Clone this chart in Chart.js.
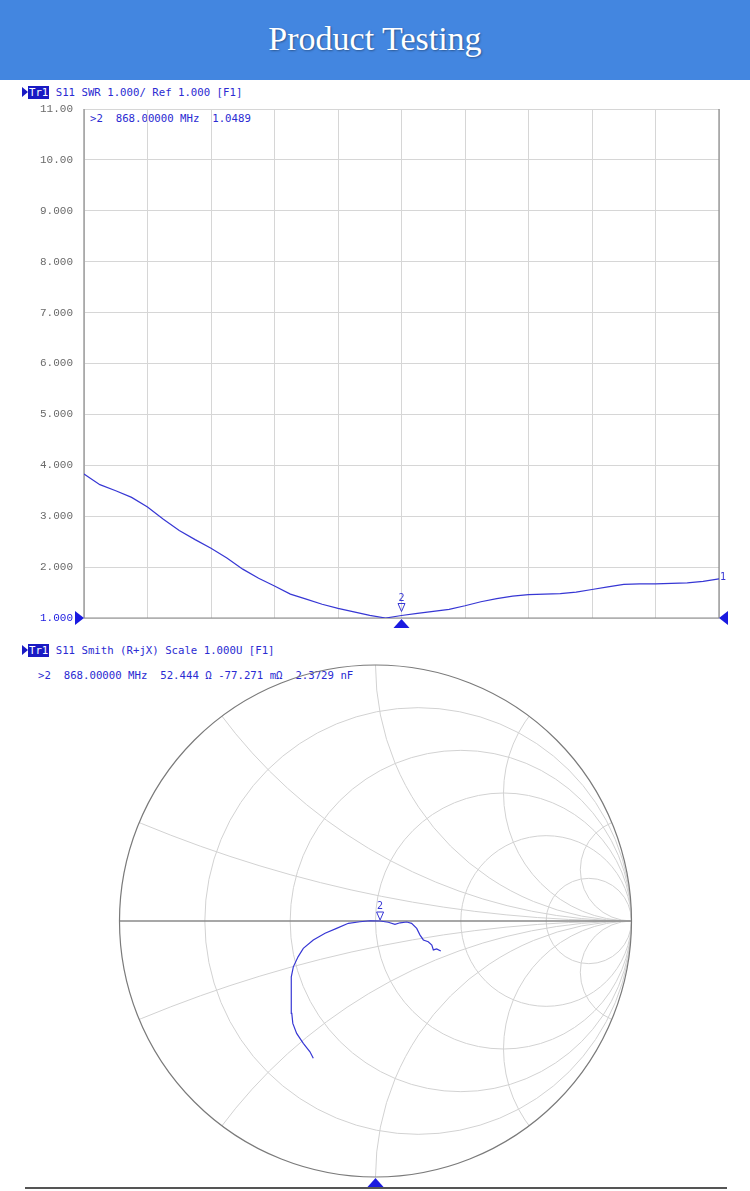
<!DOCTYPE html>
<html>
<head>
<meta charset="utf-8">
<script src="https://cdn.jsdelivr.net/npm/chart.js@4.4.1/dist/chart.umd.min.js"></script>
<style>
  body { margin: 0; background: #fff; width: 750px; height: 1191px; position: relative; overflow: hidden; }
  .banner { position: absolute; left: 0; top: 0; width: 750px; height: 80px; background: #4386e0; }
  .banner h1 { margin: 0; font: 34px "Liberation Serif", serif; color: #fff; text-align: center; line-height: 78px; font-weight: normal; text-shadow: 1px 1px 2px rgba(0,0,0,0.35); }
  .info { position: absolute; font: 10.7px "DejaVu Sans Mono", monospace; color: #2b2bd2; white-space: pre; line-height: 12px; }
  .tr { background: #1a1ac4; color: #fff; padding: 0 1px; }
  .arrow { display: inline-block; width: 0; height: 0; border-top: 5px solid transparent; border-bottom: 5px solid transparent; border-left: 6px solid #1a1ac4; vertical-align: -1px; }
  canvas { position: absolute; left: 0; }
  .baseline { position: absolute; left: 25px; top: 1187px; width: 702px; height: 0; border-top: 2px solid #555; }
</style>
</head>
<body>
<div class="banner"><h1>Product Testing</h1></div>

<div class="info" style="left:22px;top:87px"><span class="arrow"></span><span class="tr">Tr1</span> S11 SWR 1.000/ Ref 1.000 [F1]</div>
<div class="info" style="left:90px;top:113px">&gt;2  868.00000 MHz  1.0489</div>
<canvas id="swr" width="750" height="560" style="top:80px"></canvas>

<div class="info" style="left:22px;top:645px"><span class="arrow"></span><span class="tr">Tr1</span> S11 Smith (R+jX) Scale 1.000U [F1]</div>
<div class="info" style="left:38px;top:670px">&gt;2  868.00000 MHz  52.444 Ω -77.271 mΩ  2.3729 nF</div>
<canvas id="smith" width="750" height="551" style="top:640px"></canvas>
<div class="baseline"></div>

<script>
// SWR trace, x in grid divisions (0..10), marker 2 at div 5 = 868 MHz
const swrDivs = [0, 0.25, 0.5, 0.75, 1, 1.25, 1.5, 1.75, 2, 2.25, 2.5, 2.75, 3, 3.25, 3.5, 3.75,
  4, 4.25, 4.5, 4.75, 5, 5.25, 5.5, 5.75, 6, 6.25, 6.5, 6.75, 7, 7.25, 7.5, 7.75,
  8, 8.25, 8.5, 8.75, 9, 9.25, 9.5, 9.75, 10];
const swrValues = [3.83, 3.62, 3.50, 3.37, 3.18, 2.94, 2.72, 2.54, 2.37, 2.18, 1.96, 1.78, 1.63, 1.47, 1.37, 1.27,
  1.19, 1.12, 1.05, 1.00, 1.049, 1.09, 1.13, 1.17, 1.24, 1.32, 1.38, 1.43, 1.46, 1.47, 1.48, 1.51,
  1.56, 1.61, 1.66, 1.67, 1.67, 1.68, 1.69, 1.72, 1.77];
const swrTickLabels = ['1.000', '2.000', '3.000', '4.000', '5.000', '6.000', '7.000', '8.000', '9.000', '10.00', '11.00'];
const swrMarkerIdx = 20;

// Smith trace (reflection coefficient, real / imag)
const smithRe = [-0.243, -0.256, -0.282, -0.308, -0.323, -0.327, -0.330, -0.330, -0.327, -0.321, -0.302, -0.282,
  -0.243, -0.197, -0.152, -0.106, -0.061, -0.021, 0.018, 0.050, 0.076, 0.096, 0.122, 0.141,
  0.161, 0.174, 0.187, 0.206, 0.220, 0.226, 0.239, 0.255];
const smithIm = [-0.536, -0.511, -0.478, -0.439, -0.400, -0.361, -0.296, -0.257, -0.218, -0.179, -0.139, -0.107,
  -0.074, -0.048, -0.029, -0.009, -0.003, 0.001, 0.000, -0.005, -0.013, -0.007, -0.004, -0.009,
  -0.029, -0.055, -0.074, -0.081, -0.094, -0.113, -0.109, -0.117];
const smithMarkerIdx = 18;
const smithR = [0.2, 0.5, 1, 2, 5];
const smithX = [0.2, 0.5, 1, 2, 5];

const blue = '#1a1ae0';
const traceColor = '#3737d4';

function tri(ctx, pts, fill) {
  ctx.beginPath();
  ctx.moveTo(pts[0][0], pts[0][1]);
  ctx.lineTo(pts[1][0], pts[1][1]);
  ctx.lineTo(pts[2][0], pts[2][1]);
  ctx.closePath();
  if (fill) { ctx.fillStyle = blue; ctx.fill(); } else { ctx.strokeStyle = traceColor; ctx.lineWidth = 1; ctx.stroke(); }
}

const swrDecor = {
  id: 'swrDecor',
  beforeDatasetsDraw(chart) {
    const ctx = chart.ctx, a = chart.chartArea;
    ctx.save();
    ctx.strokeStyle = '#8a8a8a';
    ctx.lineWidth = 1.2;
    ctx.beginPath();
    ctx.moveTo(a.left, a.top); ctx.lineTo(a.left, a.bottom); ctx.lineTo(a.right, a.bottom); ctx.lineTo(a.right, a.top);
    ctx.stroke();
    ctx.restore();
  },
  afterDatasetsDraw(chart) {
    const ctx = chart.ctx, a = chart.chartArea, sx = chart.scales.x, sy = chart.scales.y;
    const yRef = sy.getPixelForValue(1);
    ctx.save();
    tri(ctx, [[a.left - 9, yRef - 7], [a.left - 9, yRef + 7], [a.left, yRef]], true);
    tri(ctx, [[a.right + 9, yRef - 7], [a.right + 9, yRef + 7], [a.right, yRef]], true);
    const mx = sx.getPixelForValue(swrDivs[swrMarkerIdx]);
    const my = sy.getPixelForValue(swrValues[swrMarkerIdx]);
    tri(ctx, [[mx - 8, a.bottom + 10], [mx + 8, a.bottom + 10], [mx, a.bottom + 1]], true);
    tri(ctx, [[mx - 3.5, my - 12], [mx + 3.5, my - 12], [mx, my - 4]], false);
    ctx.fillStyle = traceColor;
    ctx.font = '10px "DejaVu Sans Mono", monospace';
    ctx.textAlign = 'center';
    ctx.textBaseline = 'middle';
    ctx.fillText('2', mx, my - 17);
    const last = swrValues.length - 1;
    ctx.textAlign = 'left';
    ctx.fillText('1', sx.getPixelForValue(swrDivs[last]) + 1, sy.getPixelForValue(swrValues[last]) - 1);
    ctx.restore();
  }
};

new Chart(document.getElementById('swr'), {
  type: 'line',
  data: {
    datasets: [{
      data: swrDivs.map((d, i) => ({ x: d, y: swrValues[i] })),
      borderColor: traceColor,
      borderWidth: 1.2,
      pointRadius: 0,
      tension: 0
    }]
  },
  options: {
    responsive: false,
    animation: false,
    layout: { padding: { left: 0, top: 29, right: 31, bottom: 0 } },
    plugins: { legend: { display: false }, tooltip: { enabled: false } },
    scales: {
      x: {
        type: 'linear', min: 0, max: 10,
        ticks: { stepSize: 1, display: false },
        grid: { color: '#d6d6d6', drawTicks: false },
        border: { display: false },
        afterFit: s => { s.height = 22; }
      },
      y: {
        min: 1, max: 11,
        ticks: {
          stepSize: 1,
          padding: 11,
          callback: v => swrTickLabels[Math.round(v) - 1],
          color: c => (c.tick && c.tick.value === 1) ? blue : '#6a6a6a',
          font: { family: 'Liberation Mono', size: 11 }
        },
        grid: { color: '#d6d6d6', drawTicks: false },
        border: { display: false },
        afterFit: s => { s.width = 84; }
      }
    }
  },
  plugins: [swrDecor]
});

const smithGrid = {
  id: 'smithGrid',
  beforeDatasetsDraw(chart) {
    const ctx = chart.ctx, sx = chart.scales.x, sy = chart.scales.y;
    const X = v => sx.getPixelForValue(v), Y = v => sy.getPixelForValue(v);
    const k = X(1) - X(0);
    ctx.save();
    ctx.beginPath();
    ctx.arc(X(0), Y(0), k, 0, Math.PI * 2);
    ctx.clip();
    ctx.strokeStyle = '#d2d2d2';
    ctx.lineWidth = 1;
    smithR.forEach(r => {
      ctx.beginPath();
      ctx.arc(X(r / (1 + r)), Y(0), k / (1 + r), 0, Math.PI * 2);
      ctx.stroke();
    });
    smithX.forEach(x => {
      [x, -x].forEach(v => {
        ctx.beginPath();
        ctx.arc(X(1), Y(1 / v), k / x, 0, Math.PI * 2);
        ctx.stroke();
      });
    });
    ctx.restore();
    ctx.save();
    ctx.strokeStyle = '#8a8a8a';
    ctx.lineWidth = 1.5;
    ctx.beginPath();
    ctx.moveTo(X(-1), Y(0)); ctx.lineTo(X(1), Y(0));
    ctx.stroke();
    ctx.strokeStyle = '#7a7a7a';
    ctx.lineWidth = 1.2;
    ctx.beginPath();
    ctx.arc(X(0), Y(0), k, 0, Math.PI * 2);
    ctx.stroke();
    ctx.restore();
  },
  afterDatasetsDraw(chart) {
    const ctx = chart.ctx, sx = chart.scales.x, sy = chart.scales.y;
    const X = v => sx.getPixelForValue(v), Y = v => sy.getPixelForValue(v);
    ctx.save();
    const bx = X(0), by = Y(-1);
    tri(ctx, [[bx - 8, by + 10], [bx + 8, by + 10], [bx, by + 1]], true);
    const mx = X(smithRe[smithMarkerIdx]), my = Y(smithIm[smithMarkerIdx]);
    tri(ctx, [[mx - 3.5, my - 9], [mx + 3.5, my - 9], [mx, my - 1]], false);
    ctx.fillStyle = traceColor;
    ctx.font = '10px "DejaVu Sans Mono", monospace';
    ctx.textAlign = 'center';
    ctx.textBaseline = 'middle';
    ctx.fillText('2', mx, my - 15);
    ctx.restore();
  }
};

new Chart(document.getElementById('smith'), {
  type: 'scatter',
  data: {
    datasets: [{
      data: smithRe.map((re, i) => ({ x: re, y: smithIm[i] })),
      showLine: true,
      borderColor: traceColor,
      borderWidth: 1.2,
      pointRadius: 0,
      tension: 0
    }]
  },
  options: {
    responsive: false,
    animation: false,
    layout: { padding: { left: 119.5, top: 25, right: 118.5, bottom: 14 } },
    plugins: { legend: { display: false }, tooltip: { enabled: false } },
    scales: {
      x: { type: 'linear', min: -1, max: 1, display: false },
      y: { type: 'linear', min: -1, max: 1, display: false }
    }
  },
  plugins: [smithGrid]
});
</script>
</body>
</html>
